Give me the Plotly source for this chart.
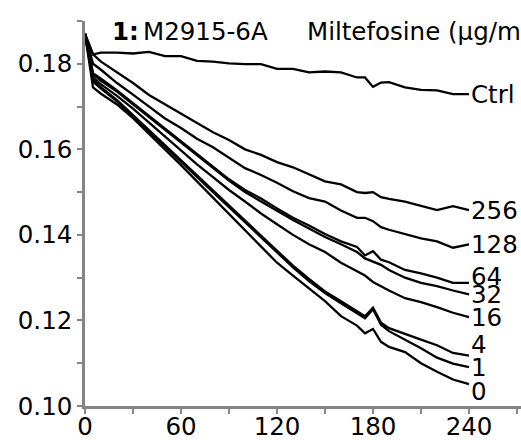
import plotly.graph_objects as go

# Time (min)
time_min = [0, 5, 10, 20, 30, 40, 50, 60, 70, 80, 90, 100, 110, 120, 130, 140,
            150, 160, 170, 175, 180, 185, 190, 200, 210, 220, 230, 240]

# OD values per Miltefosine concentration (ug/ml)
ctrl = [0.1870, 0.1822, 0.1826, 0.1826, 0.1824, 0.1828, 0.1818, 0.1818, 0.1807, 0.1805,
        0.1801, 0.1799, 0.1799, 0.1788, 0.1788, 0.1780, 0.1782, 0.1780, 0.1768, 0.1768,
        0.1746, 0.1756, 0.1757, 0.1745, 0.1739, 0.1738, 0.1729, 0.1729]
c256 = [0.1870, 0.1822, 0.1805, 0.1780, 0.1755, 0.1727, 0.1705, 0.1682, 0.1662, 0.1640,
        0.1622, 0.1600, 0.1587, 0.1570, 0.1558, 0.1542, 0.1525, 0.1518, 0.1500, 0.1498,
        0.1500, 0.1488, 0.1484, 0.1478, 0.1468, 0.1458, 0.1467, 0.1458]
c128 = [0.1870, 0.1800, 0.1786, 0.1755, 0.1728, 0.1700, 0.1672, 0.1650, 0.1625, 0.1605,
        0.1580, 0.1556, 0.1540, 0.1522, 0.1502, 0.1486, 0.1478, 0.1457, 0.1440, 0.1440,
        0.1432, 0.1418, 0.1412, 0.1402, 0.1392, 0.1385, 0.1370, 0.1378]
c64 = [0.1870, 0.1778, 0.1765, 0.1738, 0.1708, 0.1678, 0.1650, 0.1620, 0.1590, 0.1560,
       0.1530, 0.1505, 0.1485, 0.1462, 0.1440, 0.1422, 0.1402, 0.1385, 0.1372, 0.1352,
       0.1362, 0.1342, 0.1336, 0.1318, 0.1310, 0.1300, 0.1288, 0.1288]
c32 = [0.1870, 0.1775, 0.1760, 0.1735, 0.1705, 0.1675, 0.1647, 0.1616, 0.1586, 0.1556,
       0.1527, 0.1500, 0.1478, 0.1455, 0.1435, 0.1415, 0.1395, 0.1378, 0.1360, 0.1345,
       0.1338, 0.1330, 0.1318, 0.1300, 0.1288, 0.1280, 0.1270, 0.1261]
c16 = [0.1870, 0.1768, 0.1752, 0.1725, 0.1695, 0.1662, 0.1630, 0.1598, 0.1565, 0.1535,
       0.1505, 0.1478, 0.1450, 0.1425, 0.1400, 0.1378, 0.1360, 0.1335, 0.1316, 0.1305,
       0.1290, 0.1280, 0.1270, 0.1252, 0.1243, 0.1231, 0.1218, 0.1208]
c4 = [0.1870, 0.1762, 0.1745, 0.1715, 0.1680, 0.1645, 0.1610, 0.1575, 0.1540, 0.1505,
      0.1470, 0.1435, 0.1400, 0.1365, 0.1328, 0.1297, 0.1268, 0.1245, 0.1222, 0.1210,
      0.1230, 0.1195, 0.1182, 0.1168, 0.1155, 0.1142, 0.1124, 0.1118]
c1 = [0.1870, 0.1758, 0.1742, 0.1712, 0.1678, 0.1642, 0.1607, 0.1570, 0.1536, 0.1500,
      0.1465, 0.1430, 0.1394, 0.1360, 0.1324, 0.1292, 0.1264, 0.1240, 0.1218, 0.1205,
      0.1226, 0.1190, 0.1175, 0.1155, 0.1135, 0.1113, 0.1099, 0.1091]
c0 = [0.1870, 0.1745, 0.1730, 0.1705, 0.1673, 0.1637, 0.1600, 0.1563, 0.1525, 0.1487,
      0.1449, 0.1411, 0.1373, 0.1335, 0.1305, 0.1275, 0.1245, 0.1210, 0.1188, 0.1170,
      0.1180, 0.1150, 0.1138, 0.1126, 0.1100, 0.1080, 0.1062, 0.1051]

series_names = ["Ctrl", "256", "128", "64", "32", "16", "4", "1", "0"]
series_values = [ctrl, c256, c128, c64, c32, c16, c4, c1, c0]

# label vertical nudges (px) to avoid overlap, as in original
label_yshift = {"Ctrl": 0, "256": 0, "128": 0, "64": 6, "32": 0, "16": 0, "4": 11, "1": 0, "0": -7}

FONT = "DejaVu Sans"
FS = 24.5
AXIS_COLOR = "#858585"

fig = go.Figure()
for name, vals in zip(series_names, series_values):
    fig.add_trace(go.Scatter(x=time_min, y=vals, mode="lines",
                             line=dict(color="black", width=2.3),
                             showlegend=False, hoverinfo="skip"))
    fig.add_annotation(x=time_min[-1], y=vals[-1], text=name, showarrow=False,
                       xanchor="left", yanchor="middle", xshift=0,
                       yshift=label_yshift[name],
                       font=dict(family=FONT, size=FS, color="black"))

title_y = (406 - 31) / 385
for txt, px in [("<b>1:</b>", 110), ("M2915-6A", 141), ("Miltefosine (μg/ml)", 305)]:
    fig.add_annotation(xref="paper", yref="paper", x=(px - 85) / 436, y=title_y,
                       text=txt, showarrow=False, xanchor="left", yanchor="middle",
                       font=dict(family=FONT, size=FS, color="black"))

axis_common = dict(showline=True, linecolor=AXIS_COLOR, linewidth=2.5,
                   ticks="outside", tickcolor=AXIS_COLOR, ticklen=5, tickwidth=2,
                   showgrid=False, zeroline=False, automargin=False,
                   tickfont=dict(family=FONT, size=FS, color="black"))

fig.update_xaxes(range=[0, 272.5], tick0=0, dtick=60, ticklabelstandoff=-8,
                 minor=dict(dtick=30, ticks="outside", ticklen=5, tickwidth=2, tickcolor=AXIS_COLOR),
                 **axis_common)
fig.update_yaxes(range=[0.10, 0.19], tick0=0.10, dtick=0.02, tickformat=".2f",
                 minor=dict(dtick=0.01, ticks="outside", ticklen=5, tickwidth=2, tickcolor=AXIS_COLOR),
                 ticklabelstandoff=0,
                 **axis_common)

fig.update_layout(width=521, height=440, margin=dict(l=85, r=0, t=21, b=34),
                  plot_bgcolor="white", paper_bgcolor="white")

fig.write_html("out.html", config={"displayModeBar": False},
               post_script="document.body.style.margin='0';document.body.style.overflow='hidden';")
